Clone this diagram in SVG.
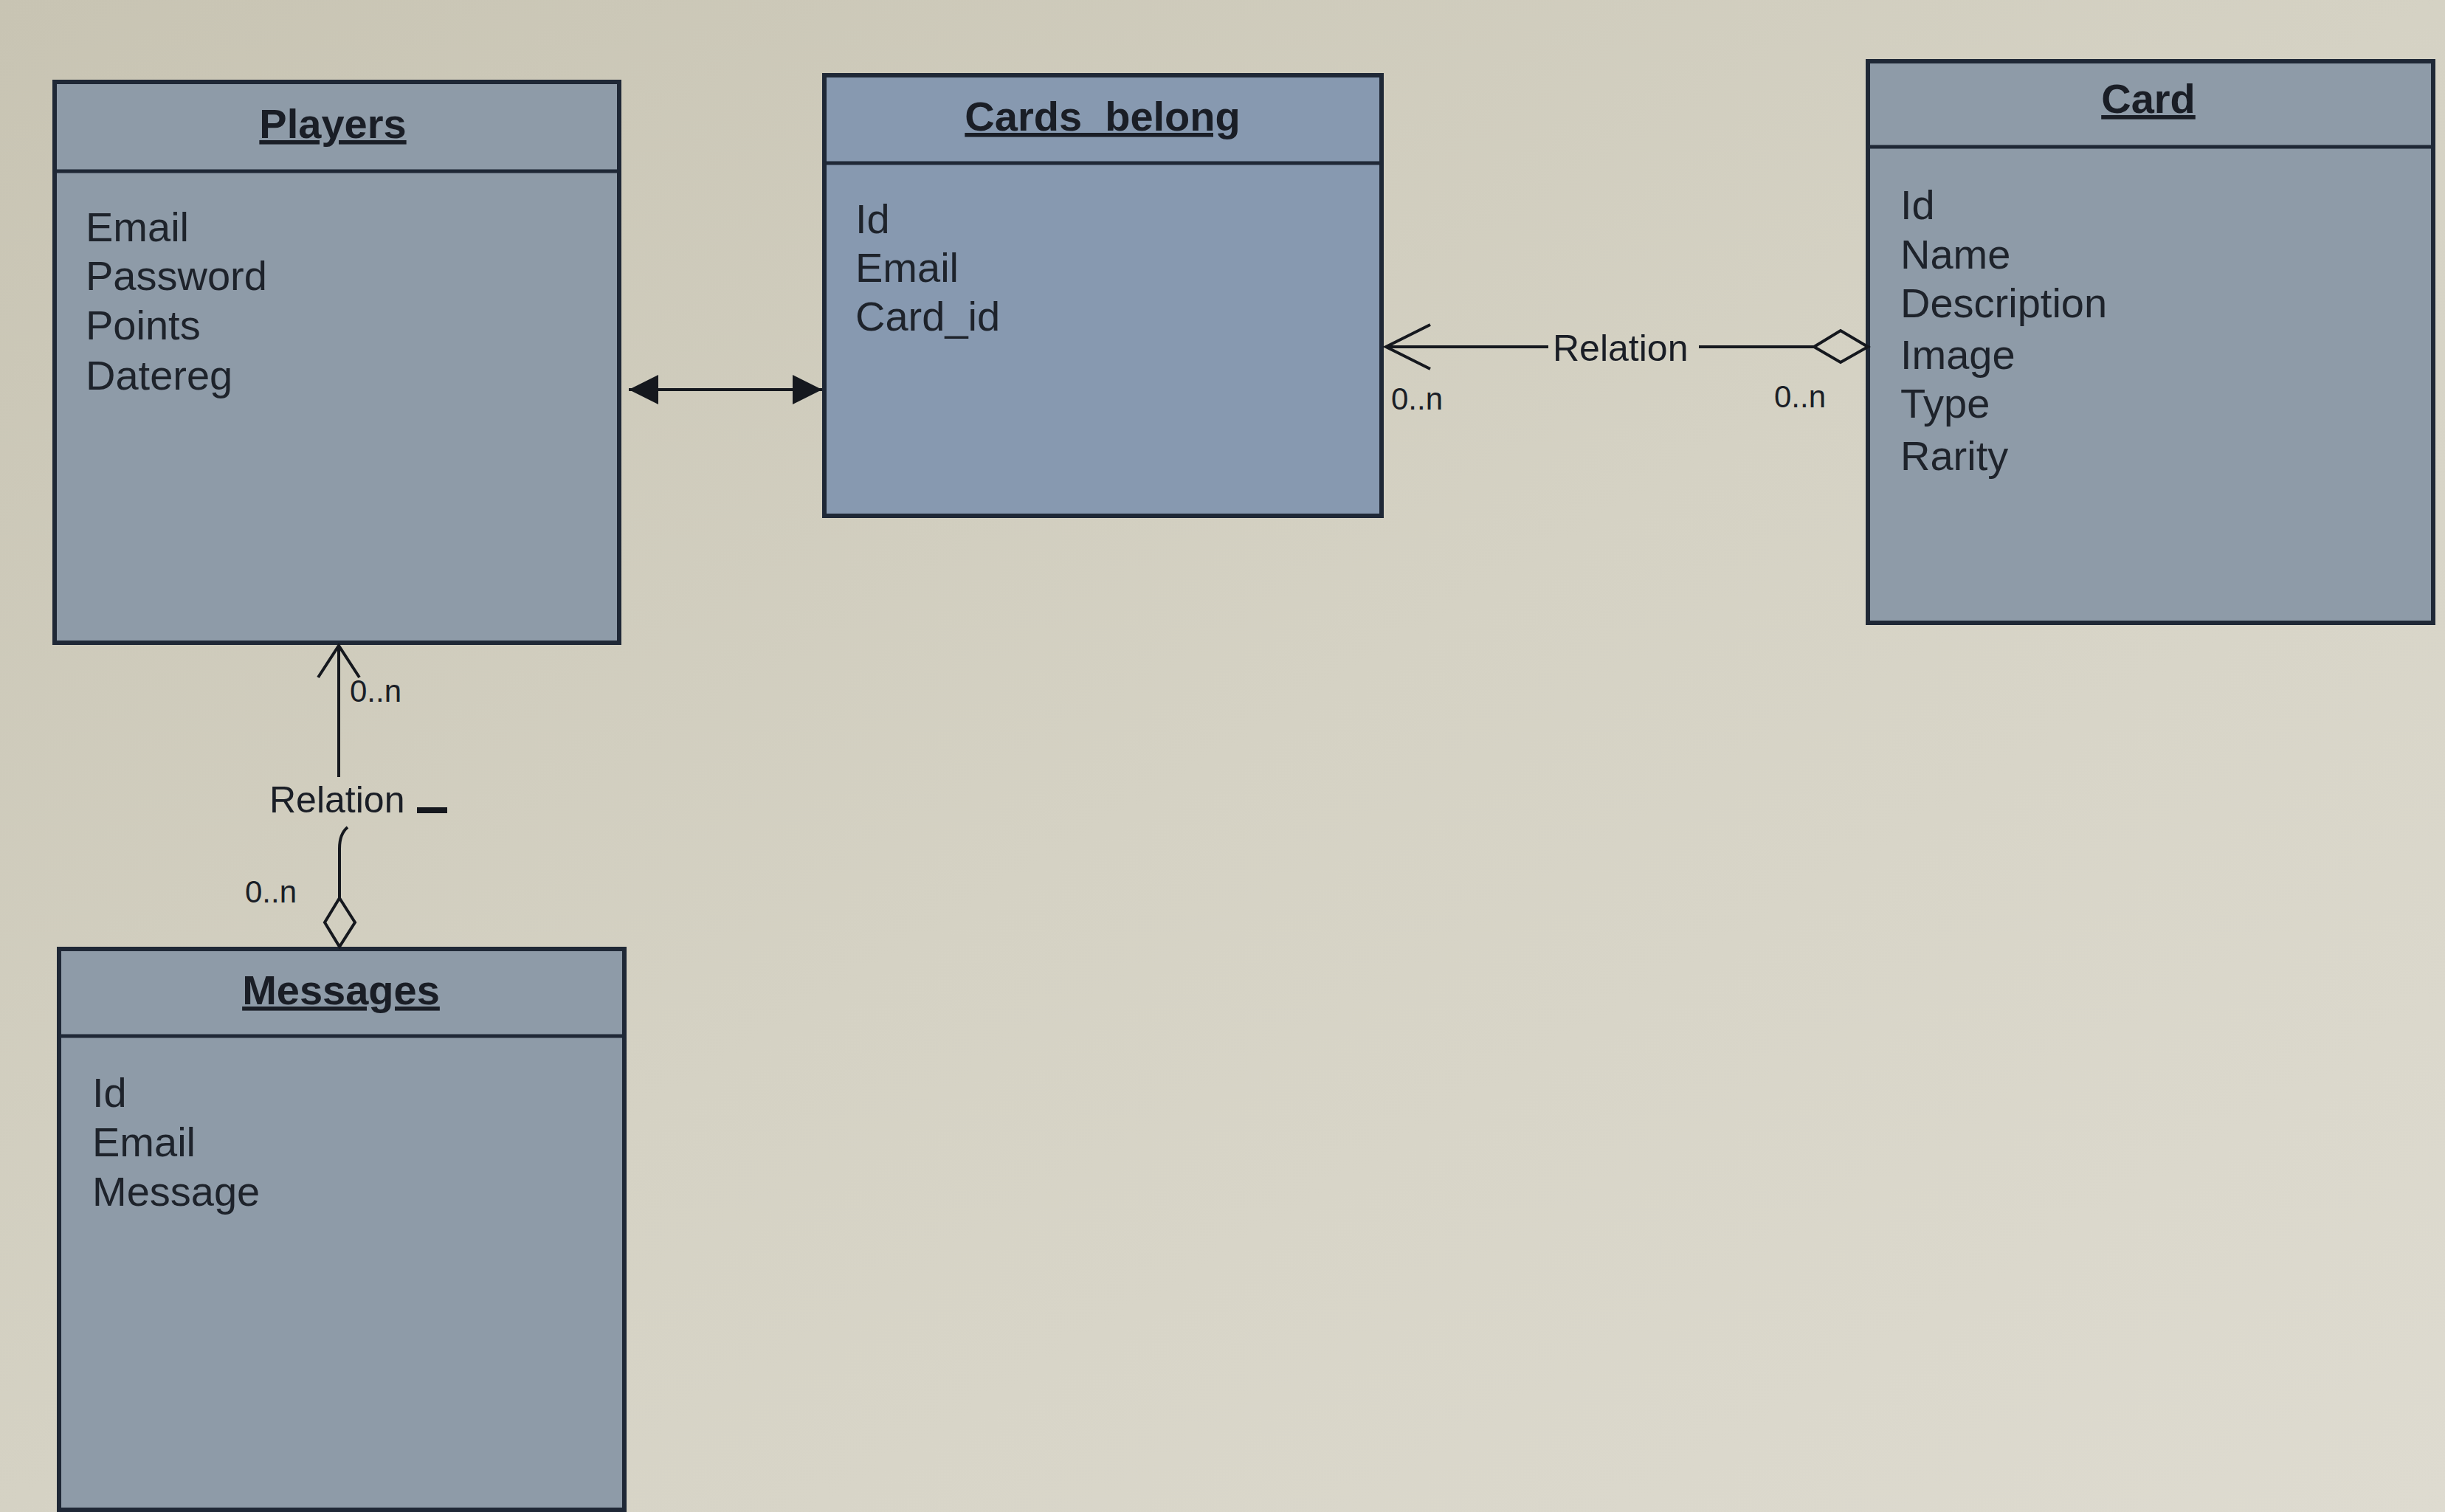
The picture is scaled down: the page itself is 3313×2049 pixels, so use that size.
<svg xmlns="http://www.w3.org/2000/svg" width="3313" height="2049" viewBox="0 0 3313 2049">
<style>
.box{fill:#8e9ba8;stroke:#1f2836;stroke-width:6}
.box2{fill:#8799b0;stroke:#1f2836;stroke-width:6}
.div{stroke:#1f2836;stroke-width:5}
.title{font-family:"Liberation Sans",Arial,sans-serif;font-weight:bold;font-size:56px;fill:#1a1e26;text-anchor:middle;text-decoration:underline}
.attr{font-family:"Liberation Sans",Arial,sans-serif;font-size:56px;fill:#1e232b}
.lbl{font-family:"Liberation Sans",Arial,sans-serif;font-size:50px;fill:#1a1e26}
.mult{font-family:"Liberation Sans",Arial,sans-serif;font-size:42px;fill:#1a1e26}
.ln{stroke:#15181e;stroke-width:4;fill:none}
.dia{stroke:#15181e;stroke-width:4;fill:none}
</style>
<defs>
<linearGradient id="bg" x1="0" y1="0" x2="1" y2="1">
<stop offset="0" stop-color="#c8c4b3"/>
<stop offset="0.5" stop-color="#d5d2c4"/>
<stop offset="1" stop-color="#dedbd0"/>
</linearGradient>
<marker id="fa" viewBox="0 0 40 40" refX="40" refY="20" markerWidth="40" markerHeight="40" markerUnits="userSpaceOnUse" orient="auto-start-reverse">
<path d="M0,0 L40,20 L0,40 Z" fill="#15181e"/>
</marker>
</defs>
<rect x="0" y="0" width="3313" height="2049" fill="url(#bg)"/>

<g id="players">
<rect class="box" x="74" y="111" width="765" height="760"/>
<line class="div" x1="74" y1="232" x2="839" y2="232"/>
<text class="title" x="451" y="187">Players</text>
<text class="attr" x="116" y="327">Email</text>
<text class="attr" x="116" y="393">Password</text>
<text class="attr" x="116" y="460">Points</text>
<text class="attr" x="116" y="528">Datereg</text>
</g>

<g id="cards_belong">
<rect class="box2" x="1117" y="102" width="755" height="597"/>
<line class="div" x1="1117" y1="221" x2="1872" y2="221"/>
<text class="title" x="1494" y="177">Cards_belong</text>
<text class="attr" x="1159" y="316">Id</text>
<text class="attr" x="1159" y="382">Email</text>
<text class="attr" x="1159" y="448">Card_id</text>
</g>

<g id="card">
<rect class="box" x="2531" y="83" width="766" height="761"/>
<line class="div" x1="2531" y1="199" x2="3297" y2="199"/>
<text class="title" x="2911" y="153">Card</text>
<text class="attr" x="2575" y="297">Id</text>
<text class="attr" x="2575" y="364">Name</text>
<text class="attr" x="2575" y="430">Description</text>
<text class="attr" x="2575" y="500">Image</text>
<text class="attr" x="2575" y="566">Type</text>
<text class="attr" x="2575" y="637">Rarity</text>
</g>

<g id="messages">
<rect class="box" x="80" y="1286" width="766" height="760"/>
<line class="div" x1="80" y1="1404" x2="846" y2="1404"/>
<text class="title" x="462" y="1361">Messages</text>
<text class="attr" x="125" y="1500">Id</text>
<text class="attr" x="125" y="1567">Email</text>
<text class="attr" x="125" y="1634">Message</text>
</g>

<g id="connectors">
<line class="ln" x1="852" y1="528" x2="1114" y2="528" marker-start="url(#fa)" marker-end="url(#fa)"/>

<line class="ln" x1="1878" y1="470" x2="2098" y2="470"/>
<line class="ln" x1="2302" y1="470" x2="2458" y2="470"/>
<path class="ln" d="M1938,440 L1878,470 L1938,500"/>
<path class="dia" d="M2458,470 L2494,448 L2531,470 L2494,491 Z"/>
<text class="lbl" x="2104" y="489">Relation</text>
<text class="mult" x="1885" y="555">0..n</text>
<text class="mult" x="2404" y="552">0..n</text>

<line class="ln" x1="459" y1="875" x2="459" y2="1053"/>
<path class="ln" d="M431,918 L459,875 L487,918"/>
<path class="ln" d="M471,1121 Q460,1130 460,1150 L460,1217"/>
<path class="dia" d="M460,1217 L481,1250 L460,1283 L440,1250 Z"/>
<text class="lbl" x="365" y="1101">Relation</text>
<rect x="565" y="1094" width="41" height="8" fill="#15181e"/>
<text class="mult" x="474" y="951">0..n</text>
<text class="mult" x="332" y="1223">0..n</text>
</g>
</svg>
